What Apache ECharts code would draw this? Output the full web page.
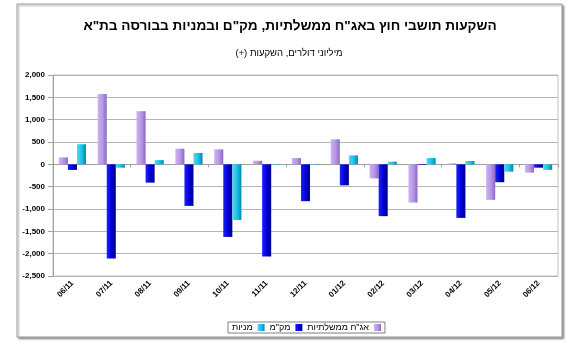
<!DOCTYPE html>
<html>
<head>
<meta charset="utf-8">
<script src="https://cdn.jsdelivr.net/npm/echarts@6/dist/echarts.min.js"></script>
<style>
  html, body { margin: 0; padding: 0; background: #fff; }
  #chart { width: 573px; height: 345px; }
</style>
</head>
<body>
<div id="chart"></div>
<script>
// Monthly non-resident investment flows, millions of USD
const months = ['06/11', '07/11', '08/11', '09/11', '10/11', '11/11', '12/11',
                '01/12', '02/12', '03/12', '04/12', '05/12', '06/12'];
const govBonds = [155, 1575, 1190, 350, 335, 80, 140, 560, -315, -855, 20, -795, -185];
const makam    = [-125, -2110, -410, -930, -1625, -2065, -825, -470, -1160, -15, -1200, -400, -75];
const stocks   = [450, -75, 95, 255, -1245, -10, -10, 200, 60, 140, 75, -165, -125];

const yTicks = { min: -2500, max: 2000, step: 500 };

const RLM = '\u200F'; // keeps the trailing "(+)" inside the right-to-left run
const titleText = 'השקעות תושבי חוץ באג"ח ממשלתיות, מק"ם ובמניות בבורסה בת"א';
const subtitleText = 'מיליוני דולרים, השקעות (+)' + RLM;
const seriesNames = ['אג"ח ממשלתיות', 'מק"מ', 'מניות'];

const FONT = '"Liberation Sans", Arial, sans-serif';

function cylinder(light, mid, dark) {
  return {
    type: 'linear', x: 0, y: 0, x2: 1, y2: 0,
    colorStops: [
      { offset: 0, color: light },
      { offset: 0.55, color: mid },
      { offset: 1, color: dark }
    ]
  };
}

const colors = [
  cylinder('#cdb2f2', '#b595e6', '#8a68c0'),
  cylinder('#2020ff', '#0000d0', '#00008a'),
  cylinder('#55d8f2', '#18c0e6', '#0088aa')
];
const legendColors = ['#b595e6', '#0000d0', '#18c0e6'];

const chart = echarts.init(document.getElementById('chart'), null, { renderer: 'canvas' });

chart.setOption({
  animation: false,
  backgroundColor: '#ffffff',
  graphic: [
    {
      type: 'rect', z: -10, silent: true,
      shape: { x: 17, y: 4, width: 545, height: 333 },
      style: {
        fill: '#fff', stroke: '#9a9a9a', lineWidth: 1,
        shadowBlur: 2, shadowOffsetX: 1.5, shadowOffsetY: 1.5, shadowColor: 'rgba(0,0,0,0.35)'
      }
    },
    {
      type: 'text', silent: true, x: 290, y: 26,
      style: {
        text: titleText, align: 'center', verticalAlign: 'middle',
        font: 'bold 13.6px ' + FONT, fill: '#000'
      }
    },
    {
      type: 'text', silent: true, x: 289, y: 53,
      style: {
        text: subtitleText, align: 'center', verticalAlign: 'middle',
        font: '9.5px ' + FONT, fill: '#000'
      }
    }
  ],
  legend: {
    data: seriesNames.slice().reverse(),
    left: 228, top: 322,
    align: 'right',
    icon: 'rect', itemWidth: 7, itemHeight: 7, itemGap: 5,
    padding: [1, 4, 1, 4],
    borderColor: '#808080', borderWidth: 1,
    textStyle: { fontFamily: FONT, fontSize: 9, color: '#000', padding: [0, 0, 0, 0] }
  },
  grid: {
    left: 53, right: 15, top: 75, bottom: 69,
    show: true, borderColor: '#c0c0c0', borderWidth: 1,
    containLabel: false
  },
  xAxis: [
    {
      type: 'category', data: months, position: 'bottom',
      axisLine: { show: false, onZero: false },
      axisTick: { show: false },
      axisLabel: {
        rotate: 45, margin: 6, interval: 0,
        fontFamily: FONT, fontSize: 8, fontWeight: 'bold', color: '#000'
      }
    },
    {
      type: 'category', data: months, position: 'top',
      axisLine: { show: true, onZero: true, lineStyle: { color: '#a0a0a0', width: 1 } },
      axisTick: { show: true, inside: true, length: 3, lineStyle: { color: '#a0a0a0' } },
      axisLabel: { show: false }
    }
  ],
  yAxis: {
    type: 'value', min: yTicks.min, max: yTicks.max, interval: yTicks.step,
    axisLine: { show: true, lineStyle: { color: '#a0a0a0' } },
    axisTick: { show: true, length: 5, lineStyle: { color: '#a0a0a0' } },
    axisLabel: {
      margin: 8,
      fontFamily: FONT, fontSize: 8, fontWeight: 'bold', color: '#000',
      formatter: v => v.toLocaleString('en-US')
    },
    splitLine: { show: true, lineStyle: { color: '#b4b4b4', width: 1 } }
  },
  series: [govBonds, makam, stocks].map((data, i) => ({
    name: seriesNames[i],
    type: 'bar',
    xAxisIndex: 0,
    data: data,
    barGap: '0%',
    barCategoryGap: '30%',
    color: legendColors[i],
    itemStyle: { color: colors[i] }
  }))
});
</script>
</body>
</html>
